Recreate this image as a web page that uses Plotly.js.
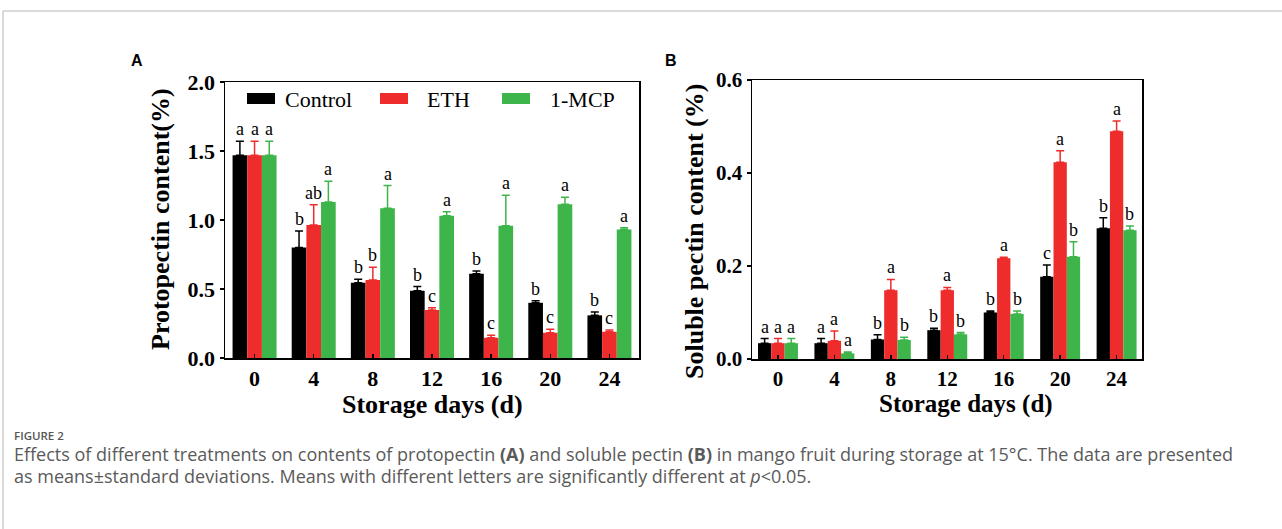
<!DOCTYPE html>
<html>
<head>
<meta charset="utf-8">
<script src="https://cdn.plot.ly/plotly-3.0.1.min.js"></script>
<style>html,body{margin:0;padding:0;background:#fff;}#chart{width:1282px;height:529px;}</style>
</head>
<body>
<div id="chart"></div>
<script>
// ---------- data ----------
const days = ['0', '4', '8', '12', '16', '20', '24'];
const seriesNames = ['Control', 'ETH', '1-MCP'];

// Panel A: protopectin content (%)
const protoControl = [1.47, 0.80, 0.546, 0.488, 0.611, 0.40, 0.309];
const protoControlErr = [0.10, 0.12, 0.025, 0.03, 0.02, 0.015, 0.024];
const protoETH = [1.47, 0.964, 0.565, 0.348, 0.147, 0.183, 0.19];
const protoETHErr = [0.10, 0.146, 0.092, 0.017, 0.017, 0.025, 0.013];
const protoMCP = [1.47, 1.13, 1.085, 1.03, 0.959, 1.114, 0.932];
const protoMCPErr = [0.10, 0.15, 0.165, 0.03, 0.22, 0.05, 0.012];
const protoControlLetters = ['a', 'b', 'b', 'b', 'b', 'b', 'b'];
const protoETHLetters = ['a', 'ab', 'b', 'c', 'c', 'c', 'c'];
const protoMCPLetters = ['a', 'a', 'a', 'a', 'a', 'a', 'a'];

// Panel B: soluble pectin content (%)
const solControl = [0.034, 0.034, 0.042, 0.062, 0.100, 0.177, 0.281];
const solControlErr = [0.010, 0.010, 0.010, 0.004, 0.003, 0.025, 0.023];
const solETH = [0.034, 0.039, 0.148, 0.148, 0.2165, 0.423, 0.490];
const solETHErr = [0.010, 0.021, 0.023, 0.006, 0.0025, 0.025, 0.022];
const solMCP = [0.034, 0.012, 0.041, 0.053, 0.097, 0.22, 0.277];
const solMCPErr = [0.010, 0.003, 0.006, 0.004, 0.006, 0.032, 0.009];
const solControlLetters = ['a', 'a', 'b', 'b', 'b', 'c', 'b'];
const solETHLetters = ['a', 'a', 'a', 'a', 'a', 'a', 'a'];
const solMCPLetters = ['a', 'a', 'b', 'b', 'b', 'b', 'b'];

// ---------- style ----------
const colors = ['#000000', '#EE2C2C', '#3DB54A'];
const W = 1282, H = 529;
const px = x => x / W;
const py = y => 1 - y / H;
const SERIF = 'Liberation Serif, Times New Roman, serif';
const SANS = 'Liberation Sans, Arial, sans-serif';
const CAP = 'Open Sans, sans-serif';

const panels = [
  {xa: 'x', ya: 'y', w: 0.248,
   vals: [protoControl, protoETH, protoMCP],
   errs: [protoControlErr, protoETHErr, protoMCPErr],
   letters: [protoControlLetters, protoETHLetters, protoMCPLetters]},
  {xa: 'x2', ya: 'y2', w: 0.236,
   vals: [solControl, solETH, solMCP],
   errs: [solControlErr, solETHErr, solMCPErr],
   letters: [solControlLetters, solETHLetters, solMCPLetters]}
];

const traces = [];
const annotations = [];
panels.forEach(p => {
  p.vals.forEach((v, k) => {
    traces.push({
      type: 'bar', x: days, y: v, name: seriesNames[k],
      xaxis: p.xa, yaxis: p.ya, showlegend: false,
      width: p.w, offset: (k - 1.5) * p.w,
      marker: {color: colors[k], line: {width: 0}},
      error_y: {type: 'data', symmetric: false, array: p.errs[k],
                arrayminus: v.map(() => 0), color: colors[k], thickness: 1.5, width: 4},
      hoverinfo: 'x+y'
    });
    v.forEach((val, i) => {
      annotations.push({
        xref: p.xa, yref: p.ya, x: i + (k - 1) * p.w, y: val + p.errs[k][i],
        text: p.letters[k][i], showarrow: false, xanchor: 'center', yanchor: 'bottom', yshift: 0,
        font: {family: SERIF, size: 18, color: '#000'}
      });
    });
  });
});

function paperText(x, y, text, font, opts) {
  return Object.assign({xref: 'paper', yref: 'paper', x: px(x), y: py(y), text: text,
    showarrow: false, xanchor: 'center', yanchor: 'middle', font: font}, opts || {});
}

annotations.push(
  paperText(161, 219, 'Protopectin content(%)', {family: SERIF, size: 26, color: '#000', weight: 'bold'}, {textangle: -90}),
  paperText(695, 231, 'Soluble pectin content (%)', {family: SERIF, size: 26, color: '#000', weight: 'bold'}, {textangle: -90}),
  paperText(432, 404, 'Storage days (d)', {family: SERIF, size: 26, color: '#000', weight: 'bold'}),
  paperText(966, 404, 'Storage days (d)', {family: SERIF, size: 25, color: '#000', weight: 'bold'}),
  paperText(137, 61, 'A', {family: SANS, size: 16, color: '#000', weight: 'bold'}),
  paperText(671, 61, 'B', {family: SANS, size: 16, color: '#000', weight: 'bold'}),
  paperText(283, 99, seriesNames[0], {family: SERIF, size: 22, color: '#000'}, {xanchor: 'left'}),
  paperText(425, 99, seriesNames[1], {family: SERIF, size: 22, color: '#000'}, {xanchor: 'left'}),
  paperText(548, 99, seriesNames[2], {family: SERIF, size: 22, color: '#000'}, {xanchor: 'left'}),
  paperText(12, 435, 'FIGURE 2', {family: CAP, size: 11.5, color: '#555', weight: 600}, {xanchor: 'left'}),
  paperText(12, 454, 'Effects of different treatments on contents of protopectin <b>(A)</b> and soluble pectin <b>(B)</b> in mango fruit during storage at 15°C. The data are presented',
    {family: CAP, size: 18, color: '#5a5a5a'}, {xanchor: 'left'}),
  paperText(12, 476, 'as means±standard deviations. Means with different letters are significantly different at <i>p</i>&lt;0.05.',
    {family: CAP, size: 18, color: '#5a5a5a'}, {xanchor: 'left'})
);

// legend swatches & frame
const swatchX = [[247, 275], [380, 408], [502, 530]];
const shapes = swatchX.map((s, k) => ({
  type: 'rect', xref: 'paper', yref: 'paper', x0: px(s[0]), x1: px(s[1]), y0: py(104), y1: py(93),
  fillcolor: colors[k], line: {width: 0}
}));
shapes.push(
  {type: 'line', xref: 'paper', yref: 'paper', x0: px(3), x1: 1, y0: py(11), y1: py(11), line: {color: '#b5b5b5', width: 1}},
  {type: 'line', xref: 'paper', yref: 'paper', x0: px(3), x1: px(3), y0: py(11), y1: 0, line: {color: '#b5b5b5', width: 1}}
);

const xBase = {
  type: 'category', showline: true, mirror: true, linecolor: '#000', linewidth: 1.5,
  ticks: 'inside', ticklen: 4, tickwidth: 1.5, tickcolor: '#000', showgrid: false, zeroline: false,
  fixedrange: true
};
const yBase = {
  showline: true, mirror: true, linecolor: '#000', linewidth: 1.5, ticks: 'outside', ticklen: 4,
  tickwidth: 1.5, tickcolor: '#000', showgrid: false, zeroline: false, tickformat: '.1f', fixedrange: true
};

const layout = {
  width: W, height: H, margin: {l: 0, r: 0, t: 0, b: 0},
  paper_bgcolor: '#fff', plot_bgcolor: '#fff', barmode: 'overlay', showlegend: false,
  xaxis: Object.assign({}, xBase, {domain: [px(225), px(639)], anchor: 'y', range: [-0.5, 6.5],
    tickfont: {family: SERIF, size: 22, color: '#000', weight: 'bold'}}),
  yaxis: Object.assign({}, yBase, {domain: [py(358), py(82)], anchor: 'x', range: [0, 2], dtick: 0.5,
    tickfont: {family: SERIF, size: 22, color: '#000', weight: 'bold'}}),
  xaxis2: Object.assign({}, xBase, {domain: [px(752), px(1142)], anchor: 'y2', range: [-0.46, 6.45],
    tickfont: {family: SERIF, size: 21, color: '#000', weight: 'bold'}}),
  yaxis2: Object.assign({}, yBase, {domain: [py(359), py(80)], anchor: 'x2', range: [0, 0.6], dtick: 0.2,
    tickfont: {family: SERIF, size: 21, color: '#000', weight: 'bold'}}),
  annotations: annotations, shapes: shapes
};

Plotly.newPlot('chart', traces, layout, {displayModeBar: false, staticPlot: true});
</script>
</body>
</html>
